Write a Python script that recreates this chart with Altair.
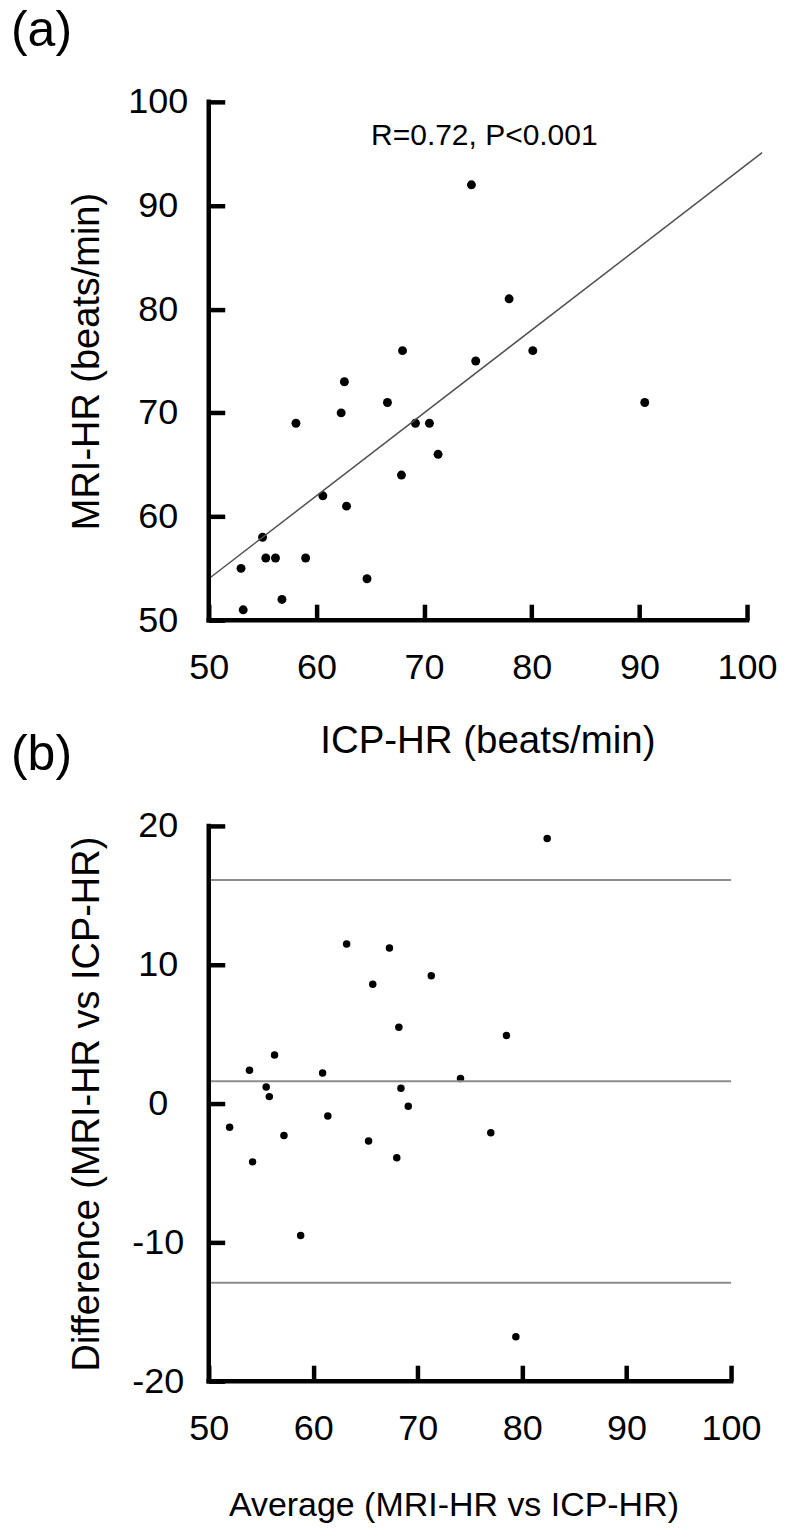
import altair as alt
import pandas as pd

FONT = "Liberation Sans"

# ---- panel (a) data: correlation ----
icp_hr = [74.4, 77.9, 68.0, 80.1, 74.8, 62.6, 66.6, 90.5, 62.3, 58.1, 69.2, 70.5,
          71.3, 67.9, 60.6, 62.8, 55.0, 55.3, 56.2, 59.0, 53.0, 64.7, 56.8, 53.2]
mri_hr = [92, 81, 76, 76, 75, 73, 71, 71, 70, 69, 69, 69,
          66, 64, 62, 61, 58, 56, 56, 56, 55, 54, 52, 51]
fit_x = [50, 101.4]
fit_y = [54.0, 95.1]
annotation = ["R=0.72, P<0.001"]

# ---- panel (b) data: Bland-Altman ----
avg_hr = [82.4, 63.2, 67.3, 71.3, 65.7, 68.2, 78.5, 56.3, 53.9, 60.9, 74.1, 55.5,
          68.4, 55.8, 69.1, 61.4, 52.0, 57.2, 77.0, 65.3, 68.0, 54.2, 58.8, 79.4]
diff_hr = [19.1, 11.5, 11.2, 9.2, 8.6, 5.5, 4.9, 3.5, 2.4, 2.2, 1.8, 1.2,
           1.1, 0.5, -0.2, -0.9, -1.7, -2.3, -2.1, -2.7, -3.9, -4.2, -9.5, -16.8]
loa_levels = [16.1, 1.6, -12.9]

x_ticks = [50, 60, 70, 80, 90, 100]
ya_ticks = [50, 60, 70, 80, 90, 100]
yb_ticks = [-20, -10, 0, 10, 20]

df_a = pd.DataFrame({"icp": icp_hr, "mri": mri_hr})
df_fit = pd.DataFrame({"icp": fit_x, "mri": fit_y})
df_ann = pd.DataFrame({"label": annotation})
df_b = pd.DataFrame({"avg": avg_hr, "diff": diff_hr})
df_loa = pd.DataFrame({"diff": loa_levels})
one = pd.DataFrame({"k": [0]})

AX = 4.5


def x_axis(title, tx, ty, tsize):
    return alt.Axis(values=x_ticks, offset=-16, tickSize=16, tickWidth=AX, tickColor="black",
                    domain=False, grid=False, labelFontSize=36, labelFont=FONT,
                    labelColor="black", labelPadding=30, labelAlign="center",
                    title=title, titleFont=FONT, titleFontSize=tsize, titleFontWeight="normal",
                    titleColor="black", titleX=tx, titleY=ty, titleBaseline="alphabetic",
                    titleAlign="center")


def y_axis(values, title, ty, expr=None):
    kw = dict(values=values, offset=-16, tickSize=16, tickWidth=AX, tickColor="black",
              domain=False, grid=False, labelFontSize=36, labelFont=FONT,
              labelColor="black", labelPadding=51, labelAlign="center",
              labelBaseline="middle",
              title=title, titleFont=FONT, titleFontSize=38, titleFontWeight="normal",
              titleColor="black", titleX=-126, titleY=ty, titleBaseline="alphabetic",
              titleAlign="center", titleAngle=270)
    if expr:
        kw["labelExpr"] = expr
    return alt.Axis(**kw)


WA, HA = 539, 519
WB, HB = 523, 556

sx_a = alt.Scale(domain=[50, 100], nice=False, zero=False)
sy_a = alt.Scale(domain=[50, 100], nice=False, zero=False)

pts_a = alt.Chart(df_a).mark_circle(size=80, color="black", opacity=1).encode(
    x=alt.X("icp:Q", scale=sx_a, axis=x_axis("ICP-HR (beats/min)", 279, 148, 38.5)),
    y=alt.Y("mri:Q", scale=sy_a, axis=y_axis(ya_ticks, "MRI-HR (beats/min)", HA / 2)),
)
fit_a = alt.Chart(df_fit).mark_line(color="#505050", strokeWidth=1.5).encode(
    x="icp:Q", y="mri:Q"
)
xdom_a = alt.Chart(one).mark_rule(color="black", strokeWidth=AX, strokeCap="square").encode(
    x=alt.datum(50), x2=alt.datum(100), y=alt.datum(50)
)
ydom_a = alt.Chart(one).mark_rule(color="black", strokeWidth=AX, strokeCap="square").encode(
    x=alt.datum(50), y=alt.datum(50), y2=alt.datum(100)
)
ann_a = alt.Chart(df_ann).mark_text(font=FONT, fontSize=30, color="black",
                                    align="center", baseline="middle").encode(
    x=alt.datum(75.6), y=alt.datum(96.7), text="label:N"
)

panel_a = alt.layer(pts_a, fit_a, xdom_a, ydom_a, ann_a).properties(
    width=WA, height=HA,
    title=alt.TitleParams(text="(a)", anchor="start", frame="group", fontSize=50, font=FONT,
                          fontWeight="normal", color="black", dx=-198, offset=-12,
                          baseline="alphabetic"),
)

sx_b = alt.Scale(domain=[50, 100], nice=False, zero=False)
sy_b = alt.Scale(domain=[-20, 20], nice=False, zero=False)

pts_b = alt.Chart(df_b).mark_circle(size=56, color="black", opacity=1).encode(
    x=alt.X("avg:Q", scale=sx_b, axis=x_axis("Average (MRI-HR vs ICP-HR)", 245, 150, 34)),
    y=alt.Y("diff:Q", scale=sy_b,
            axis=y_axis(yb_ticks, "Difference (MRI-HR vs ICP-HR)", HB / 2, "'' + datum.value")),
)
loa_b = alt.Chart(df_loa).mark_rule(color="#8c8c8c", strokeWidth=2).encode(
    y="diff:Q", x=alt.datum(50), x2=alt.datum(100)
)
xdom_b = alt.Chart(one).mark_rule(color="black", strokeWidth=AX, strokeCap="square").encode(
    x=alt.datum(50), x2=alt.datum(100), y=alt.datum(-20)
)
ydom_b = alt.Chart(one).mark_rule(color="black", strokeWidth=AX, strokeCap="square").encode(
    x=alt.datum(50), y=alt.datum(-20), y2=alt.datum(20)
)

panel_b = alt.layer(pts_b, loa_b, xdom_b, ydom_b).properties(
    width=WB, height=HB,
    title=alt.TitleParams(text="(b)", anchor="start", frame="group", fontSize=50, font=FONT,
                          fontWeight="normal", color="black", dx=-198, offset=-12,
                          baseline="alphabetic"),
)

chart = alt.vconcat(panel_a, panel_b, spacing=206, bounds="flush").properties(
    padding={"left": 3, "top": -3, "right": 0, "bottom": 0},
    background="white",
).configure_view(strokeWidth=0, stroke="transparent")

chart.save("out.html", embed_options={"renderer": "svg", "actions": False})
